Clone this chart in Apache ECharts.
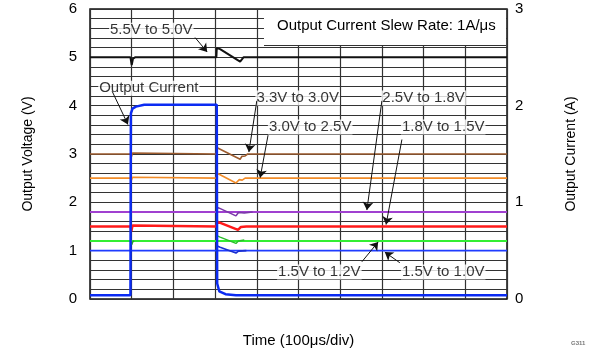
<!DOCTYPE html>
<html>
<head>
<meta charset="utf-8">
<script src="https://cdn.jsdelivr.net/npm/echarts@6/dist/echarts.min.js"></script>
<style>
  html, body { margin: 0; padding: 0; background: #fff; }
  #main { width: 594px; height: 353px; }
</style>
</head>
<body>
<div id="main"></div>
<script>
// time in divisions (100us/div), voltage in V, current in A
const vOut55 = [[0, 5.0], [0.97, 5.0], [1.0, 4.84], [1.03, 4.97], [1.08, 5.0], [3.03, 5.0], [3.04, 5.19], [3.12, 5.17], [3.6, 4.91], [3.68, 5.0], [10, 5.0]];
const vOut33 = [[0, 3.0], [0.97, 3.0], [0.99, 2.94], [1.02, 3.02], [1.05, 3.0], [3.03, 3.0], [3.05, 3.13], [3.6, 2.89], [3.64, 2.95], [3.72, 2.96], [3.78, 3.0], [10, 3.0]];
const vOut30 = [[0, 2.5], [0.97, 2.5], [0.99, 2.45], [1.02, 2.52], [1.05, 2.5], [3.03, 2.5], [3.05, 2.6], [3.5, 2.4], [3.58, 2.47], [3.65, 2.46], [3.72, 2.5], [10, 2.5]];
const vOut25 = [[0, 1.8], [10, 1.8]];
const tr25 = [[3.04, 1.9], [3.1, 1.88], [3.5, 1.72], [3.56, 1.79], [3.7, 1.78], [3.9, 1.8]];
const vOut18 = [[0, 1.5], [0.97, 1.5], [0.99, 1.4], [1.02, 1.52], [1.06, 1.5], [3.03, 1.5], [3.05, 1.6], [3.55, 1.43], [3.62, 1.49], [3.75, 1.5], [10, 1.5]];
const vOut15a = [[0, 1.2], [10, 1.2]];
const tr15a = [[0.98, 1.2], [1.0, 1.12], [1.03, 1.19], [1.06, 1.2]];
const tr15a2 = [[3.04, 1.31], [3.12, 1.28], [3.5, 1.15], [3.56, 1.2], [3.7, 1.22]];
const vOut15b = [[0, 1.0], [10, 1.0]];
const tr15b = [[3.04, 1.1], [3.12, 1.07], [3.5, 0.95], [3.56, 0.99], [3.75, 1.0]];
const iOut = [[0, 0.04], [0.97, 0.04], [0.98, 1.92], [1.02, 1.97], [1.1, 1.99], [1.3, 2.01], [3.04, 2.01], [3.05, 0.16], [3.1, 0.08], [3.25, 0.05], [3.5, 0.04], [10, 0.04]];

const noteText = ['5.5V to 5.0V', 'Output Current', '3.3V to 3.0V', '3.0V to 2.5V', '2.5V to 1.8V', '1.8V to 1.5V', '1.5V to 1.2V', '1.5V to 1.0V'];
const notePos = [[1.47, 5.6], [1.41, 4.4], [4.98, 4.2], [5.28, 3.6], [8.0, 4.2], [8.47, 3.6], [5.5, 0.6], [8.47, 0.6]];
const arrowFrom = [[2.52, 5.41], [0.53, 4.3], [4.0, 4.1], [4.27, 3.39], [7.0, 4.1], [7.48, 3.3], [6.52, 0.77], [7.43, 0.75]];
const arrowTo = [[2.81, 5.11], [0.91, 3.61], [3.81, 3.04], [4.08, 2.51], [6.64, 1.84], [7.1, 1.54], [6.91, 1.18], [7.07, 0.97]];

const font = 'Liberation Sans, Arial, sans-serif';
const chart = echarts.init(document.getElementById('main'));

function vLine(name, data, color, width) {
  return {
    name: name, type: 'line', data: data, yAxisIndex: 0,
    symbol: 'none', silent: true, animation: false,
    lineStyle: { color: color, width: width }
  };
}

chart.setOption({
  animation: false,
  textStyle: { fontFamily: font },
  grid: { left: 90, right: 87, top: 9, bottom: 48, show: true, borderColor: '#111', borderWidth: 1.5 },
  xAxis: {
    type: 'value', min: 0, max: 10, interval: 1,
    name: 'Time (100μs/div)', nameLocation: 'middle', nameGap: 34,
    nameTextStyle: { fontSize: 15, color: '#000' },
    axisLine: { show: false }, axisTick: { show: false }, axisLabel: { show: false },
    splitLine: { show: true, lineStyle: { color: '#333', width: 1.2 } }
  },
  yAxis: [{
    type: 'value', min: 0, max: 6, interval: 0.2,
    name: 'Output Voltage (V)', nameLocation: 'middle', nameGap: 55, nameRotate: 90,
    nameTextStyle: { fontSize: 14, color: '#000' },
    axisLine: { show: false }, axisTick: { show: false },
    axisLabel: {
      fontSize: 15, color: '#000', margin: 13,
      formatter: function (v) { return Math.abs(v - Math.round(v)) < 1e-6 ? String(Math.round(v)) : ''; }
    },
    splitLine: { show: true, lineStyle: { color: '#333', width: 1.2 } }
  }, {
    type: 'value', min: 0, max: 3, interval: 1,
    name: 'Output Current (A)', nameLocation: 'middle', nameGap: 57, nameRotate: 90,
    nameTextStyle: { fontSize: 14, color: '#000' },
    axisLine: { show: false }, axisTick: { show: false },
    axisLabel: { fontSize: 15, color: '#000', margin: 8 },
    splitLine: { show: false }
  }],
  graphic: [
    { type: 'rect', shape: { x: 264, y: 10, width: 242, height: 35 }, style: { fill: '#fff' }, z: 5 },
    { type: 'line', shape: { x1: 264, y1: 45.5, x2: 506, y2: 45.5 }, style: { stroke: '#333', lineWidth: 1 }, z: 5 },
    { type: 'text', left: 277, top: 18, z: 6, style: { text: 'Output Current Slew Rate: 1A/μs', font: '15px ' + font, fill: '#000' } },
    { type: 'text', left: 571, top: 340, z: 6, style: { text: 'G311', font: 'bold 6px ' + font, fill: '#777' } }
  ],
  series: [
    vLine('5.5V to 5.0V', vOut55, '#111', 2),
    vLine('3.3V to 3.0V', vOut33, '#9c5b2e', 1.6),
    vLine('3.0V to 2.5V', vOut30, '#f28c28', 1.6),
    vLine('2.5V to 1.8V', vOut25, '#a040d0', 2),
    vLine('2.5V to 1.8V tr', tr25, '#7a38a8', 1.6),
    vLine('1.8V to 1.5V', vOut18, '#ff1a1a', 2.5),
    vLine('1.5V to 1.2V', vOut15a, '#33ee33', 1.8),
    vLine('1.5V to 1.2V s', tr15a, '#2ca02c', 1.4),
    vLine('1.5V to 1.2V tr', tr15a2, '#2bbf2b', 1.4),
    vLine('1.5V to 1.0V', vOut15b, '#1f3cff', 1.6),
    vLine('1.5V to 1.0V tr', tr15b, '#1a2fd0', 1.6),
    {
      name: 'Output Current', type: 'line', data: iOut, yAxisIndex: 1,
      symbol: 'none', silent: true, lineStyle: { color: '#0b2bf2', width: 2.5 }, z: 3
    },
    {
      name: 'arrows', type: 'line', data: [], yAxisIndex: 0, silent: true,
      markLine: {
        silent: true, animation: false, symbol: ['none', 'arrow'], symbolSize: 8,
        label: { show: false },
        lineStyle: { color: '#111', width: 1, type: 'solid' },
        data: arrowFrom.map(function (p, i) { return [{ coord: p }, { coord: arrowTo[i] }]; })
      }
    },
    {
      name: 'notes', type: 'scatter', yAxisIndex: 0, silent: true, symbolSize: 1, z: 4,
      itemStyle: { color: 'rgba(0,0,0,0)' },
      label: {
        show: true, position: 'inside', offset: [0, 2], formatter: '{b}', fontSize: 15, color: '#000',
        backgroundColor: '#fff', padding: [0, 1]
      },
      data: noteText.map(function (t, i) { return { name: t, value: notePos[i] }; })
    }
  ]
});
</script>
</body>
</html>
